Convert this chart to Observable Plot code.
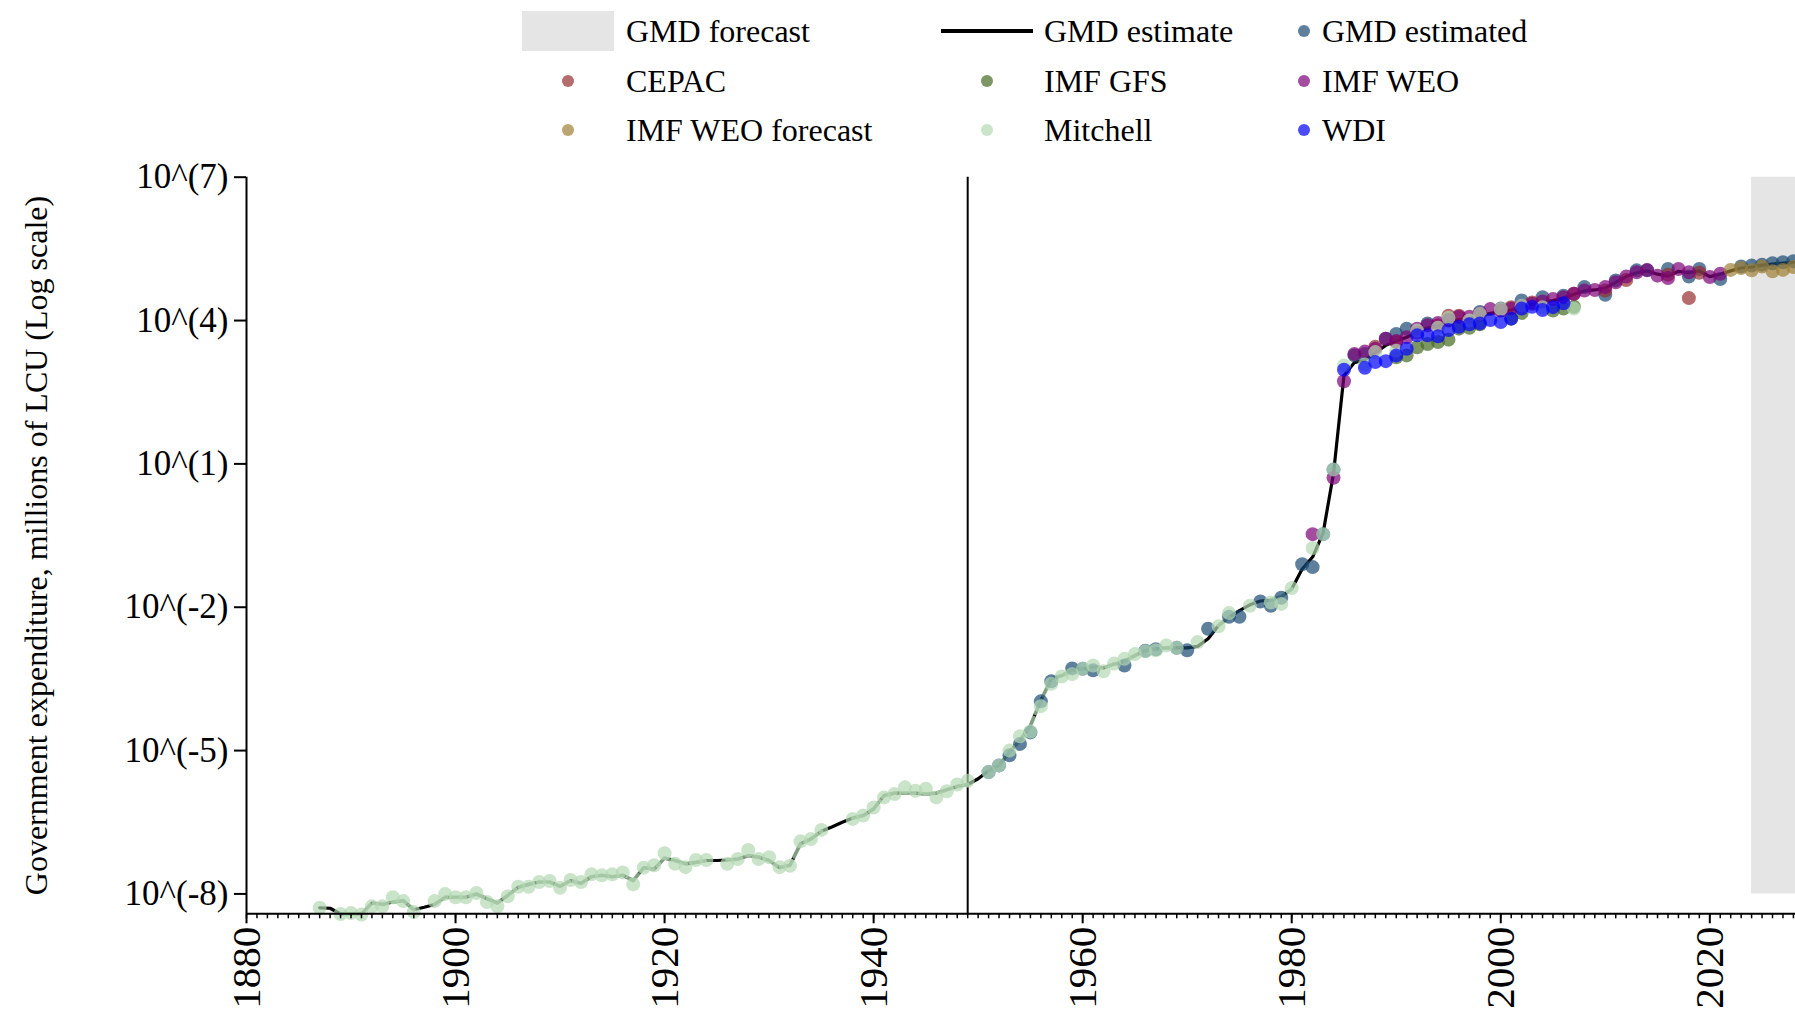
<!DOCTYPE html>
<html>
<head>
<meta charset="utf-8">
<script src="https://cdn.jsdelivr.net/npm/d3@7"></script>
<script src="https://cdn.jsdelivr.net/npm/@observablehq/plot@0.6"></script>
<style>
  html, body { margin: 0; padding: 0; background: #fff; overflow: hidden; }
  #legend { position: relative; width: 1795px; height: 160px;
            font-family: "Liberation Serif", "Times New Roman", serif; font-size: 32px; color: #000; }
  .sw { position: absolute; }
  .lab { position: absolute; white-space: nowrap; line-height: 36px; transform: translateY(-50%); }
</style>
</head>
<body>
<div id="legend"></div>
<div id="chart"></div>
<script>
// ---------------- data (values are log10 of millions of LCU) ----------------
const gmdStartYear = 1887;
const gmdEstimateLog = [
  -8.29, -8.30, -8.42, -8.42, -8.42, -8.19, -8.22, -8.17, -8.14, -8.33, -8.28, -8.22, -8.07, // 1887-1899
  -8.07, -8.07, -8.00, -8.10, -8.19, -8.03, -7.86, -7.80, -7.75, -7.75,                      // 1900-1909
  -7.84, -7.72, -7.78, -7.64, -7.61, -7.64, -7.61, -7.72, -7.45, -7.48,                      // 1910-1919
  -7.25, -7.30, -7.37, -7.34, -7.30, -7.30, -7.29, -7.27, -7.20, -7.23,                      // 1920-1929
  -7.30, -7.45, -7.40, -6.95, -6.85, -6.69, -6.60, -6.50, -6.41, -6.36,                      // 1930-1939
  -6.22, -5.94, -5.89, -5.89, -5.89, -5.91, -5.89, -5.82, -5.75, -5.71,                      // 1940-1949
  -5.59, -5.42, -5.31, -5.03, -4.79, -4.48, -3.95, -3.50, -3.43, -3.32,                      // 1950-1959
  -3.29, -3.25, -3.27, -3.19, -3.13, -3.01, -2.91, -2.87, -2.85, -2.85,                      // 1960-1969
  -2.85, -2.82, -2.66, -2.38, -2.21, -2.07, -1.95, -1.87, -1.85, -1.78,                      // 1970-1979
  -1.62, -1.20, -0.95, -0.45, 0.80, 2.85, 3.12, 3.18, 3.33, 3.48,                            // 1980-1989
  3.57, 3.65, 3.76, 3.85, 3.88, 3.97, 4.02, 4.04, 4.10, 4.15,                                // 1990-1999
  4.18, 4.22, 4.30, 4.34, 4.38, 4.42, 4.47, 4.55, 4.62, 4.64,                                // 2000-2009
  4.68, 4.80, 4.92, 5.00, 5.04, 4.97, 4.93, 5.03, 5.00, 5.04,                                // 2010-2019
  4.92, 4.97, 5.04, 5.10, 5.12, 5.16, 5.18, 5.20, 5.22                                       // 2020-2028
];

const gmdEstimated = [
  [1951,-5.45],[1952,-5.31],[1953,-5.10],[1954,-4.86],[1955,-4.62],[1956,-3.97],[1957,-3.55],
  [1959,-3.28],[1960,-3.29],[1961,-3.32],[1964,-3.22],[1966,-2.91],[1967,-2.88],[1969,-2.85],
  [1970,-2.90],[1972,-2.45],[1974,-2.20],[1975,-2.20],[1977,-1.88],[1978,-1.97],[1979,-1.80],
  [1981,-1.10],[1982,-1.16],[1983,-0.47],[1984,0.88],[1986,3.27],[1987,3.30],[1989,3.62],
  [1990,3.72],[1991,3.83],[1993,3.94],[1995,4.02],[1998,4.18],[2000,4.25],[2002,4.42],
  [2004,4.49],[2006,4.52],[2008,4.70],[2010,4.54],[2011,4.84],[2013,5.05],[2014,5.05],
  [2016,5.08],[2018,4.92],[2019,5.08],[2021,4.87],[2023,5.13],[2024,5.15],[2025,5.17],
  [2026,5.20],[2027,5.22],[2028,5.24]
];
const cepac = [
  [1988,3.45],[1990,3.55],[1992,3.75],[1994,3.90],[1995,4.10],[1996,4.10],[1998,4.12],
  [2000,4.22],[2001,4.28],[2003,4.38],[2007,4.56],[2010,4.63],[2012,4.85],[2016,4.96],
  [2018,4.47],[2019,5.00]
];
const imfGfs = [
  [1990,3.23],[1991,3.27],[1992,3.44],[1993,3.51],[1994,3.55],[1995,3.60],[1996,3.83],
  [1997,3.85],[1998,3.92],[2001,4.04],[2002,4.16],[2005,4.21],[2006,4.25],[2007,4.29]
];
const imfWeo = [
  [1982,-0.47],[1984,0.71],[1985,2.73],[1986,3.30],[1987,3.35],[1988,3.41],[1989,3.62],
  [1990,3.57],[1991,3.65],[1992,3.83],[1993,3.90],[1994,3.95],[1995,4.00],[1996,4.08],
  [1997,4.08],[1998,4.15],[1999,4.24],[2000,4.21],[2001,4.25],[2002,4.30],[2003,4.35],
  [2004,4.40],[2005,4.45],[2006,4.49],[2007,4.56],[2008,4.63],[2009,4.64],[2010,4.70],
  [2011,4.80],[2012,4.92],[2013,5.01],[2014,5.06],[2015,4.94],[2016,4.89],[2017,5.08],
  [2018,5.01],[2020,4.91],[2021,4.98]
];
const imfWeoForecast = [
  [2022,5.06],[2023,5.10],[2024,5.05],[2025,5.13],[2026,5.03],[2027,5.06],[2028,5.12]
];
const mitchell = [
  [1887,-8.29],[1889,-8.42],[1890,-8.40],[1891,-8.43],[1892,-8.26],[1893,-8.26],[1894,-8.07],
  [1895,-8.15],[1896,-8.38],[1898,-8.15],[1899,-8.00],[1900,-8.07],[1901,-8.07],[1902,-7.98],
  [1903,-8.17],[1904,-8.26],[1905,-8.05],[1906,-7.85],[1907,-7.85],[1908,-7.75],[1909,-7.73],
  [1910,-7.87],[1911,-7.71],[1912,-7.75],[1913,-7.59],[1914,-7.61],[1915,-7.59],[1916,-7.55],
  [1917,-7.80],[1918,-7.45],[1919,-7.40],[1920,-7.15],[1921,-7.37],[1922,-7.44],[1923,-7.29],
  [1924,-7.29],[1926,-7.37],[1927,-7.27],[1928,-7.08],[1929,-7.27],[1930,-7.23],[1931,-7.44],
  [1932,-7.41],[1933,-6.90],[1934,-6.85],[1935,-6.66],[1938,-6.43],[1939,-6.36],[1940,-6.19],
  [1941,-5.98],[1942,-5.91],[1943,-5.77],[1944,-5.84],[1945,-5.80],[1946,-5.98],[1947,-5.85],
  [1948,-5.71],[1949,-5.63],[1951,-5.45],[1952,-5.31],[1953,-5.00],[1954,-4.70],[1955,-4.60],
  [1956,-4.07],[1957,-3.60],[1958,-3.45],[1959,-3.40],[1960,-3.29],[1961,-3.22],[1962,-3.34],
  [1963,-3.18],[1964,-3.08],[1965,-2.98],[1966,-2.92],[1967,-2.90],[1968,-2.80],[1969,-2.85],
  [1971,-2.73],[1973,-2.40],[1974,-2.12],[1976,-1.97],[1978,-1.90],[1979,-1.93],[1980,-1.60],
  [1982,-0.76],[1983,-0.47],[1984,0.88],[1985,3.06],[1987,3.08],[1988,3.34],[1990,3.37],
  [1992,3.79],[1994,3.85],[1995,4.06],[1997,4.00],[1998,4.14],[2000,4.24],[2002,4.31],
  [2004,4.28],[2007,4.25]
];
const wdi = [
  [1985,2.97],[1987,3.01],[1988,3.13],[1989,3.15],[1990,3.27],[1991,3.41],[1992,3.69],
  [1993,3.69],[1994,3.67],[1995,3.80],[1996,3.87],[1997,3.92],[1998,3.94],[1999,4.01],
  [2000,3.97],[2001,4.04],[2002,4.25],[2003,4.29],[2004,4.22],[2005,4.28],[2006,4.36]
];

const sourceNames  = ["GMD estimated", "CEPAC", "IMF GFS", "IMF WEO", "IMF WEO forecast", "Mitchell", "WDI"];
const sourceColors = ["#1a4a73", "#962d2d", "#446a22", "#7e0077", "#9e7f33", "#b3d8b3", "#0000ff"];
const sourceData   = [gmdEstimated, cepac, imfGfs, imfWeo, imfWeoForecast, mitchell, wdi];

const xDomain = [1880, 2028.2];
const yDomainLog = [-8.416, 7];
const yTickExps = [-8, -5, -2, 1, 4, 7];
const majorTicks = [1880, 1900, 1920, 1940, 1960, 1980, 2000, 2020];
const markerYear = 1949;
const forecastStart = 2024;
const mitchellSpliceEnd = 1980;   // last year the Mitchell-based segment of the estimate is drawn
const yTitle = "Government expenditure, millions of LCU (Log scale)";

// ---------------- derived rows ----------------
const FONT = '"Liberation Serif", "Times New Roman", serif';
const gmdRows = gmdEstimateLog.map((lg, i) => ({year: gmdStartYear + i, value: 10 ** lg}));
const dotRows = sourceData.flatMap((arr, k) =>
  arr.map(([year, lg]) => ({year, value: 10 ** lg, source: sourceNames[k]})));
const mitchellYears = new Set(mitchell.map(d => d[0]));
const mitchellLine = gmdRows.map(d => ({year: d.year,
  value: mitchellYears.has(d.year) && d.year <= mitchellSpliceEnd ? d.value : NaN}));
const yDomain = yDomainLog.map(e => 10 ** e);
const forecastRect = [{x1: forecastStart, x2: xDomain[1], y1: 10 ** yTickExps[0], y2: 10 ** yTickExps[yTickExps.length - 1]}];
const minorTicks = d3.range(xDomain[0], Math.floor(xDomain[1]) + 1);

const chart = Plot.plot({
  width: 1795,
  height: 855,
  marginTop: 16.7,
  marginBottom: 101.7,
  marginLeft: 246,
  marginRight: 0,
  style: {fontFamily: FONT, background: "#fff", color: "#000", overflow: "visible"},
  x: {domain: xDomain, label: null},
  y: {type: "log", domain: yDomain, label: null},
  color: {domain: sourceNames, range: sourceColors},
  marks: [
    Plot.rect(forecastRect, {x1: "x1", x2: "x2", y1: "y1", y2: "y2", fill: "#e5e5e5"}),
    Plot.ruleX([markerYear], {stroke: "#000", strokeWidth: 2}),
    Plot.line(gmdRows, {x: "year", y: "value", stroke: "#000", strokeWidth: 3.2}),
    Plot.line(mitchellLine, {x: "year", y: "value", stroke: sourceColors[5], strokeOpacity: 0.72,
                             strokeWidth: 4, strokeDasharray: "14,5"}),
    Plot.dot(dotRows, {x: "year", y: "value", fill: "source", fillOpacity: 0.7, r: 7, stroke: null}),
    Plot.ruleY([yDomain[0]], {stroke: "#000", strokeWidth: 2}),
    Plot.ruleX([xDomain[0]], {stroke: "#000", strokeWidth: 2}),
    Plot.axisX({ticks: minorTicks, tickSize: 5, tickFormat: () => "", strokeWidth: 1.5, label: null}),
    Plot.axisX({ticks: majorTicks, tickSize: 10, tickPadding: 3, tickRotate: -90, fontSize: 41,
                tickFormat: d => String(d), strokeWidth: 2, label: null}),
    Plot.axisY({ticks: yTickExps.map(e => 10 ** e), tickSize: 12, tickPadding: 6, fontSize: 35,
                strokeWidth: 2, tickFormat: d => `10^(${Math.round(Math.log10(d))})`, label: null}),
    Plot.axisY({ticks: [], label: yTitle, labelAnchor: "center", labelOffset: 222, labelArrow: "none", fontSize: 32})
  ]
});
document.getElementById("chart").appendChild(chart);

// ---------------- legend (HTML, above the SVG) ----------------
const legendItems = [
  {label: "GMD forecast", kind: "rect"}, {label: "GMD estimate", kind: "line"}, {label: "GMD estimated", kind: "dot"},
  {label: "CEPAC", kind: "dot"}, {label: "IMF GFS", kind: "dot"}, {label: "IMF WEO", kind: "dot"},
  {label: "IMF WEO forecast", kind: "dot"}, {label: "Mitchell", kind: "dot"}, {label: "WDI", kind: "dot"}
];
const colCenters = [568, 987, 1304];
const colText = [626, 1044, 1322];
const rowCenters = [31, 81, 130];
const legend = document.getElementById("legend");
legendItems.forEach((it, i) => {
  const c = i % 3, r = Math.floor(i / 3);
  const cx = colCenters[c], cy = rowCenters[r];
  const sw = document.createElement("div");
  sw.className = "sw";
  if (it.kind === "rect") {
    Object.assign(sw.style, {left: (cx - 46) + "px", top: (cy - 20) + "px", width: "92px", height: "40px", background: "#e5e5e5"});
  } else if (it.kind === "line") {
    Object.assign(sw.style, {left: (cx - 46) + "px", top: (cy - 2) + "px", width: "92px", height: "4px", background: "#000"});
  } else {
    const col = sourceColors[sourceNames.indexOf(it.label)];
    Object.assign(sw.style, {left: (cx - 6) + "px", top: (cy - 6) + "px", width: "12px", height: "12px",
      borderRadius: "50%", background: col, opacity: 0.7});
  }
  legend.appendChild(sw);
  const t = document.createElement("div");
  t.className = "lab";
  t.textContent = it.label;
  Object.assign(t.style, {left: colText[c] + "px", top: cy + "px"});
  legend.appendChild(t);
});
</script>
</body>
</html>
